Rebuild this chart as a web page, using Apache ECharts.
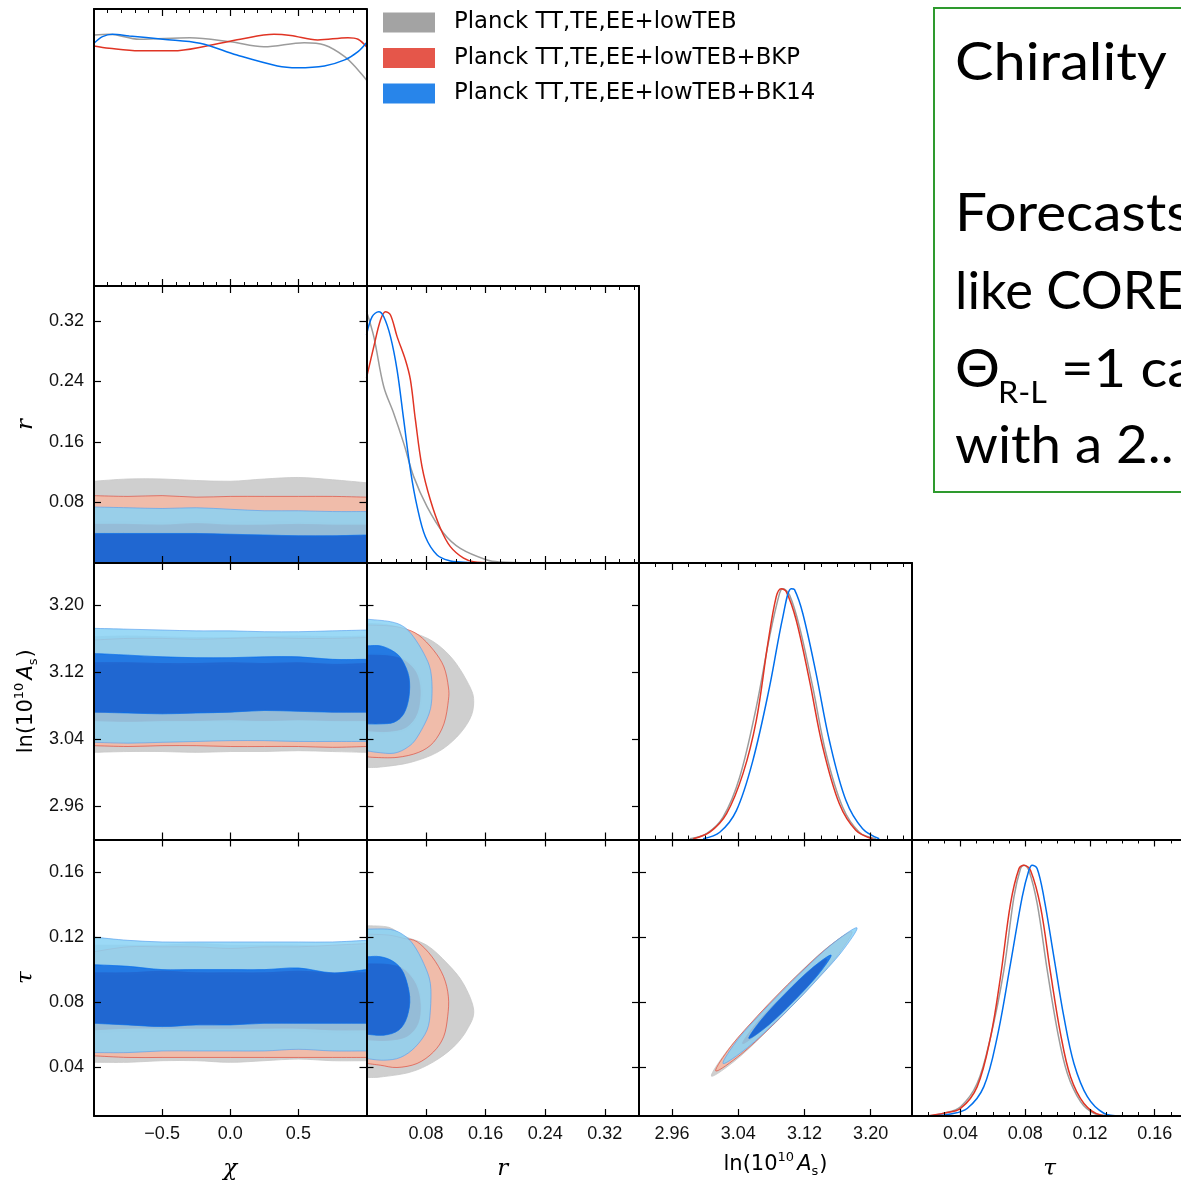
<!DOCTYPE html>
<html>
<head>
<meta charset="utf-8">
<script src="https://cdn.jsdelivr.net/npm/echarts@6.0.0/dist/echarts.min.js"></script>
<style>
html,body{margin:0;padding:0;background:#ffffff;overflow:hidden;}
#chart{width:1181px;height:1182px;}
</style>
</head>
<body>
<div id="chart"></div>
<script>
// ================= DATA =================
const legendNames = ['Planck TT,TE,EE+lowTEB', 'Planck TT,TE,EE+lowTEB+BKP', 'Planck TT,TE,EE+lowTEB+BK14'];

// axis ranges and ticks
const chiRange = [-1, 1];
const chiTicks = [-0.5, 0, 0.5];
const chiTickLabels = ['\u22120.5', '0.0', '0.5'];
const chiMinorTicks = [-0.9, -0.8, -0.7, -0.6, -0.4, -0.3, -0.2, -0.1, 0.1, 0.2, 0.3, 0.4, 0.6, 0.7, 0.8, 0.9];

const rRange = [0, 0.366];
const rTicks = [0.08, 0.16, 0.24, 0.32];
const rTickLabels = ['0.08', '0.16', '0.24', '0.32'];
const rMinorTicks = [0.02, 0.04, 0.06, 0.10, 0.12, 0.14, 0.18, 0.20, 0.22, 0.26, 0.28, 0.30, 0.34, 0.36];

const lnAsRange = [2.92, 3.25];
const lnAsTicks = [2.96, 3.04, 3.12, 3.20];
const lnAsTickLabels = ['2.96', '3.04', '3.12', '3.20'];
const lnAsMinorTicks = [2.94, 2.98, 3.00, 3.02, 3.06, 3.08, 3.10, 3.14, 3.16, 3.18, 3.22, 3.24];

const tauRange = [0.01, 0.18];
const tauTicks = [0.04, 0.08, 0.12, 0.16];
const tauTickLabels = ['0.04', '0.08', '0.12', '0.16'];
const tauMinorTicks = [0.02, 0.03, 0.05, 0.06, 0.07, 0.09, 0.10, 0.11, 0.13, 0.14, 0.15, 0.17];

// ---- 1D marginals (normalised, peak = 1) ----
const chiGray = [[-1.0,0.997],[-0.889,1.0],[-0.667,0.980],[-0.296,0.986],[0,0.970],[0.247,0.950],[0.543,0.966],[0.691,0.957],[0.84,0.911],[0.938,0.858],[1.0,0.818]];
const chiRed  = [[-1.0,0.953],[-0.889,0.944],[-0.667,0.934],[-0.42,0.934],[-0.173,0.953],[0.074,0.980],[0.321,1.0],[0.444,0.995],[0.642,0.977],[0.864,0.986],[0.938,0.980],[1.0,0.950]];
const chiBlue = [[-1.0,0.964],[-0.938,0.990],[-0.864,1.0],[-0.741,0.993],[-0.494,0.980],[-0.222,0.964],[0.049,0.917],[0.346,0.874],[0.494,0.867],[0.691,0.874],[0.84,0.898],[0.938,0.931],[1.0,0.966]];

const rGray = [[0,1.0],[0.0098,0.899],[0.0232,0.700],[0.0366,0.594],[0.05,0.475],[0.0634,0.343],[0.0813,0.224],[0.1036,0.118],[0.126,0.058],[0.1618,0.012],[0.18,0.004],[0.22,0]];
const rRed  = [[0,0.735],[0.0098,0.859],[0.0188,0.965],[0.0255,0.998],[0.0322,0.985],[0.0411,0.899],[0.0523,0.806],[0.059,0.727],[0.0657,0.568],[0.0746,0.382],[0.0858,0.250],[0.0992,0.138],[0.1126,0.065],[0.1304,0.019],[0.1438,0.005],[0.17,0]];
const rBlue = [[0,0.905],[0.0076,0.978],[0.0165,0.998],[0.0232,0.978],[0.0322,0.899],[0.0411,0.766],[0.05,0.568],[0.059,0.369],[0.068,0.224],[0.0791,0.104],[0.0948,0.032],[0.1126,0.008],[0.126,0.004],[0.15,0]];

const lnAsGray = [[2.9814,0.003],[3.0016,0.023],[3.0216,0.089],[3.0417,0.248],[3.0618,0.527],[3.0778,0.806],[3.0899,0.979],[3.0939,0.998],[3.1019,0.973],[3.114,0.846],[3.13,0.607],[3.1461,0.342],[3.1661,0.129],[3.1863,0.029],[3.2064,0.003]];
const lnAsRed  = [[2.9855,0.003],[3.0055,0.029],[3.0257,0.102],[3.0457,0.262],[3.0618,0.474],[3.0758,0.780],[3.0859,0.966],[3.0919,0.998],[3.098,0.986],[3.11,0.873],[3.126,0.634],[3.1421,0.368],[3.1622,0.142],[3.1823,0.036],[3.2023,0.003]];
const lnAsBlue = [[2.9975,0.003],[3.0176,0.029],[3.0377,0.115],[3.0577,0.315],[3.0778,0.607],[3.0939,0.886],[3.104,0.998],[3.108,0.994],[3.118,0.899],[3.1341,0.66],[3.1501,0.394],[3.1702,0.155],[3.1903,0.043],[3.2104,0.003]];

const tauGray = [[0.0194,0],[0.0297,0.011],[0.04,0.037],[0.0503,0.130],[0.0586,0.315],[0.0668,0.580],[0.073,0.871],[0.0771,0.985],[0.0792,0.998],[0.0822,0.978],[0.0874,0.845],[0.0936,0.580],[0.0998,0.342],[0.106,0.170],[0.1142,0.057],[0.1224,0.011],[0.1328,0]];
const tauRed  = [[0.0194,0],[0.0297,0.011],[0.04,0.030],[0.0503,0.117],[0.0586,0.315],[0.0647,0.553],[0.0709,0.845],[0.0761,0.984],[0.0792,0.998],[0.0833,0.977],[0.0895,0.831],[0.0957,0.567],[0.1018,0.328],[0.108,0.156],[0.1163,0.050],[0.1266,0.004],[0.1348,0]];
const tauBlue = [[0.0235,0],[0.0338,0.008],[0.0441,0.030],[0.0544,0.117],[0.0627,0.315],[0.0709,0.606],[0.0781,0.871],[0.0822,0.977],[0.0843,0.998],[0.0874,0.984],[0.0915,0.871],[0.0977,0.633],[0.1039,0.394],[0.1101,0.209],[0.1184,0.077],[0.1286,0.011],[0.1389,0]];

// ---- 2D contours: chi bands (values at chiBandX) ----
const chiBandX = [-1, -0.75, -0.5, -0.25, 0, 0.25, 0.5, 0.75, 1];
const chiR_floor  = [0, 0, 0, 0, 0, 0, 0, 0, 0];
const chiR_gray95 = [0.108, 0.111, 0.111, 0.109, 0.108, 0.111, 0.113, 0.110, 0.106];
const chiR_gray68 = [0.055, 0.055, 0.054, 0.055, 0.054, 0.055, 0.054, 0.053, 0.053];
const chiR_red95  = [0.089, 0.088, 0.089, 0.087, 0.088, 0.088, 0.088, 0.088, 0.087];
const chiR_red68  = [0.051, 0.051, 0.050, 0.052, 0.050, 0.050, 0.051, 0.050, 0.050];
const chiR_blue95 = [0.074, 0.073, 0.072, 0.073, 0.071, 0.069, 0.069, 0.068, 0.068];
const chiR_blue68 = [0.039, 0.039, 0.039, 0.039, 0.038, 0.037, 0.036, 0.036, 0.037];

const chiAs_gray95_hi = [3.162, 3.163, 3.162, 3.161, 3.161, 3.162, 3.163, 3.162, 3.163];
const chiAs_gray95_lo = [3.024, 3.025, 3.025, 3.024, 3.025, 3.025, 3.026, 3.025, 3.024];
const chiAs_gray68_hi = [3.128, 3.130, 3.129, 3.128, 3.129, 3.130, 3.130, 3.128, 3.128];
const chiAs_gray68_lo = [3.060, 3.061, 3.060, 3.061, 3.060, 3.061, 3.062, 3.061, 3.060];
const chiAs_red95_hi  = [3.158, 3.160, 3.160, 3.159, 3.160, 3.161, 3.160, 3.160, 3.161];
const chiAs_red95_lo  = [3.032, 3.031, 3.032, 3.032, 3.031, 3.031, 3.031, 3.030, 3.031];
const chiAs_red68_hi  = [3.131, 3.131, 3.130, 3.130, 3.131, 3.130, 3.131, 3.129, 3.130];
const chiAs_red68_lo  = [3.062, 3.061, 3.062, 3.062, 3.063, 3.062, 3.063, 3.062, 3.062];
const chiAs_blue95_hi = [3.172, 3.171, 3.170, 3.169, 3.169, 3.168, 3.168, 3.169, 3.170];
const chiAs_blue95_lo = [3.036, 3.035, 3.036, 3.037, 3.038, 3.038, 3.037, 3.037, 3.037];
const chiAs_blue68_hi = [3.142, 3.140, 3.138, 3.137, 3.137, 3.138, 3.138, 3.135, 3.135];
const chiAs_blue68_lo = [3.072, 3.071, 3.070, 3.071, 3.072, 3.074, 3.073, 3.072, 3.072];

const chiTau_gray95_hi = [0.115, 0.115, 0.115, 0.116, 0.115, 0.115, 0.115, 0.114, 0.114];
const chiTau_gray95_lo = [0.043, 0.043, 0.044, 0.044, 0.043, 0.044, 0.045, 0.044, 0.044];
const chiTau_gray68_hi = [0.097, 0.097, 0.098, 0.097, 0.097, 0.097, 0.098, 0.097, 0.097];
const chiTau_gray68_lo = [0.061, 0.062, 0.062, 0.062, 0.062, 0.062, 0.062, 0.061, 0.061];
const chiTau_red95_hi  = [0.111, 0.114, 0.114, 0.114, 0.113, 0.114, 0.114, 0.115, 0.116];
const chiTau_red95_lo  = [0.047, 0.046, 0.046, 0.046, 0.046, 0.046, 0.046, 0.046, 0.046];
const chiTau_red68_hi  = [0.098, 0.098, 0.099, 0.098, 0.098, 0.098, 0.099, 0.098, 0.098];
const chiTau_red68_lo  = [0.063, 0.064, 0.064, 0.064, 0.064, 0.064, 0.064, 0.063, 0.063];
const chiTau_blue95_hi = [0.120, 0.118, 0.117, 0.117, 0.117, 0.117, 0.117, 0.117, 0.118];
const chiTau_blue95_lo = [0.049, 0.049, 0.050, 0.050, 0.050, 0.050, 0.051, 0.050, 0.050];
const chiTau_blue68_hi = [0.103, 0.102, 0.100, 0.100, 0.100, 0.100, 0.101, 0.098, 0.100];
const chiTau_blue68_lo = [0.067, 0.066, 0.065, 0.066, 0.066, 0.067, 0.067, 0.067, 0.067];

// ---- 2D contours: r panels (boundary from r=0 top round to r=0 bottom) ----
const rAs_gray95 = [[0,3.178],[0.03,3.176],[0.059,3.168],[0.090,3.156],[0.117,3.134],[0.139,3.102],[0.144,3.084],[0.139,3.064],[0.121,3.042],[0.095,3.024],[0.059,3.012],[0.019,3.0065],[0,3.006]];
const rAs_gray68 = [[0,3.142],[0.03,3.141],[0.05,3.136],[0.068,3.122],[0.075,3.098],[0.070,3.070],[0.055,3.052],[0.028,3.047],[0,3.048]];
const rAs_red95  = [[0,3.176],[0.03,3.175],[0.05,3.172],[0.070,3.164],[0.090,3.146],[0.104,3.126],[0.110,3.102],[0.110,3.086],[0.104,3.058],[0.090,3.036],[0.070,3.024],[0.041,3.018],[0.010,3.018],[0,3.019]];
const rAs_red68  = [[0,3.140],[0.03,3.139],[0.05,3.134],[0.066,3.120],[0.072,3.098],[0.068,3.071],[0.053,3.054],[0.027,3.049],[0,3.050]];
const rAs_blue95 = [[0,3.183],[0.032,3.180],[0.050,3.174],[0.063,3.162],[0.077,3.142],[0.086,3.122],[0.088,3.094],[0.084,3.070],[0.068,3.042],[0.055,3.030],[0.037,3.023],[0.014,3.024],[0,3.026]];
const rAs_blue68 = [[0,3.151],[0.019,3.151],[0.037,3.144],[0.048,3.134],[0.057,3.114],[0.057,3.090],[0.050,3.070],[0.037,3.060],[0.019,3.058],[0,3.058]];

const rTau_gray95 = [[0,0.127],[0.03,0.126],[0.05,0.1206],[0.081,0.115],[0.108,0.104],[0.130,0.0915],[0.144,0.075],[0.135,0.063],[0.117,0.0525],[0.090,0.0433],[0.059,0.037],[0.019,0.034],[0,0.0337]];
const rTau_gray68 = [[0,0.104],[0.03,0.1035],[0.05,0.1007],[0.068,0.0915],[0.0733,0.0792],[0.0701,0.0669],[0.0545,0.0587],[0.0277,0.0562],[0,0.0566]];
const rTau_red95  = [[0,0.1218],[0.03,0.1212],[0.05,0.1192],[0.068,0.1171],[0.088,0.1079],[0.1036,0.0956],[0.110,0.0833],[0.109,0.071],[0.1036,0.0587],[0.090,0.0494],[0.068,0.0423],[0.041,0.0398],[0.019,0.0412],[0,0.0423]];
const rTau_red68  = [[0,0.1035],[0.03,0.103],[0.05,0.100],[0.066,0.091],[0.072,0.079],[0.069,0.067],[0.054,0.059],[0.027,0.0565],[0,0.057]];
const rTau_blue95 = [[0,0.1249],[0.032,0.1247],[0.05,0.1212],[0.0634,0.1151],[0.0768,0.1038],[0.0858,0.0915],[0.0858,0.0751],[0.0813,0.0628],[0.0657,0.0525],[0.0456,0.046],[0.0232,0.0443],[0,0.0453]];
const rTau_blue68 = [[0,0.1079],[0.0188,0.1079],[0.0366,0.1048],[0.05,0.0977],[0.058,0.0833],[0.0545,0.071],[0.0433,0.0628],[0.0232,0.0597],[0,0.0603]];

// ---- 2D contours: lnAs - tau (closed outlines) ----
const asTau_gray95 = [[3.0076,0.0345],[3.0383,0.0449],[3.0736,0.0617],[3.099,0.0747],[3.1238,0.0881],[3.1554,0.1067],[3.1751,0.1227],[3.1443,0.1122],[3.1089,0.0955],[3.0835,0.0824],[3.0588,0.069],[3.0271,0.0505]];
const asTau_gray68 = [[3.0435,0.0538],[3.07,0.0632],[3.1005,0.0776],[3.1296,0.0936],[3.1455,0.1058],[3.1218,0.0976],[3.091,0.0826],[3.0618,0.067]];
const asTau_red95  = [[3.0128,0.0377],[3.043,0.0478],[3.0778,0.0639],[3.1029,0.0766],[3.1272,0.0897],[3.1583,0.1077],[3.1775,0.1233],[3.1472,0.1132],[3.1124,0.097],[3.0874,0.0844],[3.063,0.0714],[3.0318,0.0533]];
const asTau_red68  = [[3.0454,0.0546],[3.0712,0.0638],[3.1019,0.0782],[3.131,0.0942],[3.1469,0.1065],[3.1232,0.0983],[3.0923,0.0833],[3.0632,0.0677]];
const asTau_blue95 = [[3.0216,0.0423],[3.051,0.052],[3.0852,0.0678],[3.1098,0.0801],[3.1336,0.0929],[3.1642,0.1104],[3.1835,0.1257],[3.1536,0.1158],[3.1195,0.1000],[3.0949,0.0876],[3.071,0.075],[3.0404,0.0577]];
const asTau_blue68 = [[3.0529,0.0577],[3.0766,0.0659],[3.1073,0.0808],[3.1362,0.0967],[3.1522,0.1089],[3.1284,0.1006],[3.0977,0.0857],[3.0689,0.0698]];

// ================= STYLE =================
const LINE_COLORS = ['#9c9c9c', '#e03424', '#006fed'];
const LEGEND_COLORS = ['#a3a3a3', '#e5564a', '#2885ea'];
const FILL_OUTER = ['#cfcfcf', '#f6b8a3', '#89d2f4'];
const FILL_INNER = ['#8c8c8c', '#e03424', '#006fed'];
const STROKE_OUTER = ['#c8c8c8', '#e04a3c', '#5aa2ee'];
const LAYER_OPACITY = [1, 0.85, 0.85];

const RICH = {
  it:  {fontFamily: 'DejaVu Serif', fontStyle: 'italic', fontSize: 23, color: '#000'},
  n:   {fontFamily: 'DejaVu Sans', fontSize: 21, color: '#000', lineHeight: 30, verticalAlign: 'middle'},
  ai:  {fontFamily: 'DejaVu Sans', fontStyle: 'italic', fontSize: 21, color: '#000', lineHeight: 30, verticalAlign: 'middle'},
  sup: {fontFamily: 'DejaVu Sans', fontSize: 13, color: '#000', lineHeight: 30, verticalAlign: 'top', padding: [1, 3, 0, 0]},
  sub: {fontFamily: 'DejaVu Sans', fontSize: 13, color: '#000', lineHeight: 30, verticalAlign: 'bottom', padding: [0, 1, 2, 0]}
};

const PARAMS = {
  chi:  {range: chiRange,  ticks: chiTicks,  labels: chiTickLabels,  minor: chiMinorTicks,  name: '{it|\u03c7}', xGap: 42, yGap: 56},
  r:    {range: rRange,    ticks: rTicks,    labels: rTickLabels,    minor: rMinorTicks,    name: '{it|r}', xGap: 42, yGap: 56},
  lnAs: {range: lnAsRange, ticks: lnAsTicks, labels: lnAsTickLabels, minor: lnAsMinorTicks, name: '{n|ln(10}{sup|10}{ai|A}{sub|s}{n|)}', xGap: 34, yGap: 52},
  tau:  {range: tauRange,  ticks: tauTicks,  labels: tauTickLabels,  minor: tauMinorTicks,  name: '{it|\u03c4}', xGap: 42, yGap: 56}
};

// layout (pixels)
const COL_L = [94, 366.5, 639, 912];
const COL_W = [272.5, 272.5, 273, 275];
const ROW_T = [9, 286, 563, 839.5];
const ROW_H = [277, 277, 276.5, 276.5];

const panels = [
  {c: 0, r: 0, x: 'chi'},
  {c: 0, r: 1, x: 'chi', y: 'r'}, {c: 1, r: 1, x: 'r'},
  {c: 0, r: 2, x: 'chi', y: 'lnAs'}, {c: 1, r: 2, x: 'r', y: 'lnAs'}, {c: 2, r: 2, x: 'lnAs'},
  {c: 0, r: 3, x: 'chi', y: 'tau'}, {c: 1, r: 3, x: 'r', y: 'tau'}, {c: 2, r: 3, x: 'lnAs', y: 'tau'}, {c: 3, r: 3, x: 'tau'}
];

const ONE_D = {chi: [chiGray, chiRed, chiBlue], r: [rGray, rRed, rBlue], lnAs: [lnAsGray, lnAsRed, lnAsBlue], tau: [tauGray, tauRed, tauBlue]};

function band(lo, hi) {
  return {closed: false, runs: [chiBandX.map((x, i) => [x, hi[i]]), chiBandX.map((x, i) => [x, lo[i]]).reverse()]};
}
function open(pts) { return {closed: false, runs: [pts]}; }
function loop(pts) { return {closed: true, runs: [pts]}; }

const TWO_D = {
  'chi_r': [
    [band(chiR_floor, chiR_gray95), band(chiR_floor, chiR_gray68)],
    [band(chiR_floor, chiR_red95),  band(chiR_floor, chiR_red68)],
    [band(chiR_floor, chiR_blue95), band(chiR_floor, chiR_blue68)]
  ],
  'chi_lnAs': [
    [band(chiAs_gray95_lo, chiAs_gray95_hi), band(chiAs_gray68_lo, chiAs_gray68_hi)],
    [band(chiAs_red95_lo, chiAs_red95_hi),   band(chiAs_red68_lo, chiAs_red68_hi)],
    [band(chiAs_blue95_lo, chiAs_blue95_hi), band(chiAs_blue68_lo, chiAs_blue68_hi)]
  ],
  'chi_tau': [
    [band(chiTau_gray95_lo, chiTau_gray95_hi), band(chiTau_gray68_lo, chiTau_gray68_hi)],
    [band(chiTau_red95_lo, chiTau_red95_hi),   band(chiTau_red68_lo, chiTau_red68_hi)],
    [band(chiTau_blue95_lo, chiTau_blue95_hi), band(chiTau_blue68_lo, chiTau_blue68_hi)]
  ],
  'r_lnAs': [
    [open(rAs_gray95), open(rAs_gray68)],
    [open(rAs_red95), open(rAs_red68)],
    [open(rAs_blue95), open(rAs_blue68)]
  ],
  'r_tau': [
    [open(rTau_gray95), open(rTau_gray68)],
    [open(rTau_red95), open(rTau_red68)],
    [open(rTau_blue95), open(rTau_blue68)]
  ],
  'lnAs_tau': [
    [loop(asTau_gray95), loop(asTau_gray68)],
    [loop(asTau_red95), loop(asTau_red68)],
    [loop(asTau_blue95), loop(asTau_blue68)]
  ]
};

// ================= PATH HELPERS =================
function fmt(p) { return p[0].toFixed(2) + ' ' + p[1].toFixed(2); }
function runPath(pts, first) {
  let d = (first ? 'M' : 'L') + fmt(pts[0]);
  for (let i = 0; i < pts.length - 1; i++) {
    const p0 = pts[i - 1] || pts[i], p1 = pts[i], p2 = pts[i + 1], p3 = pts[i + 2] || pts[i + 1];
    const c1 = [p1[0] + (p2[0] - p0[0]) / 6, p1[1] + (p2[1] - p0[1]) / 6];
    const c2 = [p2[0] - (p3[0] - p1[0]) / 6, p2[1] - (p3[1] - p1[1]) / 6];
    d += ' C' + fmt(c1) + ' ' + fmt(c2) + ' ' + fmt(p2);
  }
  return d;
}
function loopPath(pts) {
  const n = pts.length;
  let d = 'M' + fmt(pts[0]);
  for (let i = 0; i < n; i++) {
    const p0 = pts[(i - 1 + n) % n], p1 = pts[i], p2 = pts[(i + 1) % n], p3 = pts[(i + 2) % n];
    const c1 = [p1[0] + (p2[0] - p0[0]) / 6, p1[1] + (p2[1] - p0[1]) / 6];
    const c2 = [p2[0] - (p3[0] - p1[0]) / 6, p2[1] - (p3[1] - p1[1]) / 6];
    d += ' C' + fmt(c1) + ' ' + fmt(c2) + ' ' + fmt(p2);
  }
  return d + ' Z';
}
function signedArea(pts) {
  let a = 0;
  for (let i = 0; i < pts.length; i++) {
    const p = pts[i], q = pts[(i + 1) % pts.length];
    a += p[0] * q[1] - q[0] * p[1];
  }
  return a;
}
function shapePath(s, reverse) {
  let runs = s.runs;
  if (reverse) runs = runs.slice().reverse().map(r => r.slice().reverse());
  if (s.closed) return loopPath([].concat(...runs));
  return runs.map((r, i) => runPath(r, i === 0)).join(' ') + ' Z';
}

function contourSeries(xi, yi, shapes, style, z) {
  const flat = [];
  shapes.forEach(s => s.runs.forEach(r => r.forEach(p => { flat.push(p[0], p[1]); })));
  return {
    type: 'custom', xAxisIndex: xi, yAxisIndex: yi, clip: true, silent: true, z: z,
    data: [flat], encode: {x: 0, y: 1},
    renderItem: function (params, api) {
      let k = 0;
      const pix = shapes.map(s => ({closed: s.closed, runs: s.runs.map(r => r.map(() => {
        const c = api.coord([api.value(k), api.value(k + 1)]); k += 2; return c; }))}));
      let d = '', sign0 = 0;
      pix.forEach((s, i) => {
        const a = Math.sign(signedArea([].concat(...s.runs)));
        let rev = false;
        if (i === 0) sign0 = a; else rev = (a === sign0);
        d += shapePath(s, rev) + ' ';
      });
      return {type: 'path', shape: {pathData: d}, style: style};
    }
  };
}

// ================= BUILD OPTION =================
const grids = [], xAxes = [], yAxes = [], series = [];

function labelFor(p, v) {
  for (let i = 0; i < p.ticks.length; i++) if (Math.abs(p.ticks[i] - v) < 1e-9) return p.labels[i];
  return '';
}
function makeAxis(p, gi, pos, showLabels, name) {
  const isX = (pos === 'bottom' || pos === 'top');
  return {
    type: 'value', gridIndex: gi, position: pos, min: p.range[0], max: p.range[1], z: 6,
    axisLine: {show: true, onZero: false, lineStyle: {color: '#000', width: 2}},
    axisTick: {show: true, inside: true, length: 7, customValues: p.ticks, lineStyle: {color: '#000', width: 1.2}},
    axisLabel: {show: showLabels, customValues: p.ticks, margin: isX ? 9 : 10, fontSize: 18, color: '#111',
      fontFamily: 'Liberation Sans', formatter: v => labelFor(p, v)},
    splitLine: {show: false},
    name: name || '', nameLocation: 'middle', nameGap: isX ? p.xGap : p.yGap,
    nameTextStyle: {color: '#000', fontSize: 22, rich: RICH}
  };
}
function minorAxis(p, gi, pos) {
  return {
    type: 'value', gridIndex: gi, position: pos, min: p.range[0], max: p.range[1], z: 6,
    axisLine: {show: false, onZero: false},
    axisTick: {show: true, inside: true, length: 4, customValues: p.minor, lineStyle: {color: '#000', width: 1}},
    axisLabel: {show: false}, splitLine: {show: false}
  };
}
function densityAxis(gi, pos) {
  return {
    type: 'value', gridIndex: gi, position: pos, min: 0, max: 1.1, z: 6,
    axisLine: {show: true, onZero: false, lineStyle: {color: '#000', width: 2}},
    axisTick: {show: false}, axisLabel: {show: false}, splitLine: {show: false}
  };
}

panels.forEach((pn, gi) => {
  grids.push({left: COL_L[pn.c], top: ROW_T[pn.r], width: COL_W[pn.c], height: ROW_H[pn.r],
    show: false, containLabel: false, outerBoundsMode: 'none'});
  const px = PARAMS[pn.x];
  const bottomRow = pn.r === 3;
  const xi = xAxes.length;
  xAxes.push(makeAxis(px, gi, 'bottom', bottomRow, bottomRow ? px.name : ''));
  xAxes.push(makeAxis(px, gi, 'top', false, ''));
  if (!pn.y) { xAxes.push(minorAxis(px, gi, 'bottom')); xAxes.push(minorAxis(px, gi, 'top')); }
  const yi = yAxes.length;
  if (pn.y) {
    const py = PARAMS[pn.y];
    const leftCol = pn.c === 0;
    yAxes.push(makeAxis(py, gi, 'left', leftCol, leftCol ? py.name : ''));
    yAxes.push(makeAxis(py, gi, 'right', false, ''));
    const layers = TWO_D[pn.x + '_' + pn.y];
    layers.forEach((lay, li) => {
      const outer = lay[0], inner = lay[1];
      series.push(contourSeries(xi, yi, [outer, inner],
        {fill: FILL_OUTER[li], stroke: STROKE_OUTER[li], lineWidth: 0.8, opacity: LAYER_OPACITY[li]}, 2));
      series.push(contourSeries(xi, yi, [inner],
        {fill: FILL_INNER[li], stroke: FILL_INNER[li], lineWidth: 0.6, opacity: LAYER_OPACITY[li]}, 2));
    });
  } else {
    yAxes.push(densityAxis(gi, 'left'));
    yAxes.push(densityAxis(gi, 'right'));
    ONE_D[pn.x].forEach((curve, li) => {
      series.push({
        type: 'line', name: legendNames[li], xAxisIndex: xi, yAxisIndex: yi, data: curve,
        smooth: 0.35, showSymbol: false, symbol: 'none', clip: true, z: 3,
        lineStyle: {color: LINE_COLORS[li], width: 1.5}, itemStyle: {color: LINE_COLORS[li]}
      });
    });
  }
});

const TXT_FONT = '52px Lato, "Open Sans", sans-serif';

const option = {
  animation: false,
  backgroundColor: '#ffffff',
  legend: {
    orient: 'vertical', left: 378, top: 6, itemWidth: 52, itemHeight: 20, itemGap: 12.5,
    icon: 'rect', selectedMode: false,
    textStyle: {fontFamily: 'DejaVu Sans', fontSize: 22.8, lineHeight: 20, color: '#000', padding: [0, 0, 0, 14]},
    data: legendNames.map((n, i) => ({name: n, itemStyle: {color: LEGEND_COLORS[i]}}))
  },
  grid: grids, xAxis: xAxes, yAxis: yAxes, series: series,
  graphic: [
    {type: 'rect', shape: {x: 934, y: 8, width: 400, height: 484}, style: {fill: 'none', stroke: '#2e9a2e', lineWidth: 2}, z: 10},
    {type: 'text', x: 955, y: 63, scaleX: 1.11, z: 10, style: {text: 'Chirality', font: TXT_FONT, fill: '#000', verticalAlign: 'middle'}},
    {type: 'text', x: 955, y: 214, scaleX: 1.09, z: 10, style: {text: 'Forecasts', font: TXT_FONT, fill: '#000', verticalAlign: 'middle'}},
    {type: 'text', x: 955, y: 292, scaleX: 1.01, z: 10, style: {text: 'like CORE', font: TXT_FONT, fill: '#000', verticalAlign: 'middle'}},
    {type: 'text', x: 955, y: 370, scaleX: 1.08, z: 10, style: {text: '\u0398', font: TXT_FONT, fill: '#000', verticalAlign: 'middle'}},
    {type: 'text', x: 998, y: 393, scaleX: 1.08, z: 10, style: {text: 'R-L', font: '30px Lato, "Open Sans", sans-serif', fill: '#000', verticalAlign: 'middle'}},
    {type: 'text', x: 1061, y: 370, scaleX: 1.08, z: 10, style: {text: '=1 ca', font: TXT_FONT, fill: '#000', verticalAlign: 'middle'}},
    {type: 'text', x: 955, y: 446, scaleX: 1.05, z: 10, style: {text: 'with a 2..', font: TXT_FONT, fill: '#000', verticalAlign: 'middle'}}
  ]
};

const chart = echarts.init(document.getElementById('chart'), null, {renderer: 'canvas'});
chart.setOption(option);
</script>
</body>
</html>
